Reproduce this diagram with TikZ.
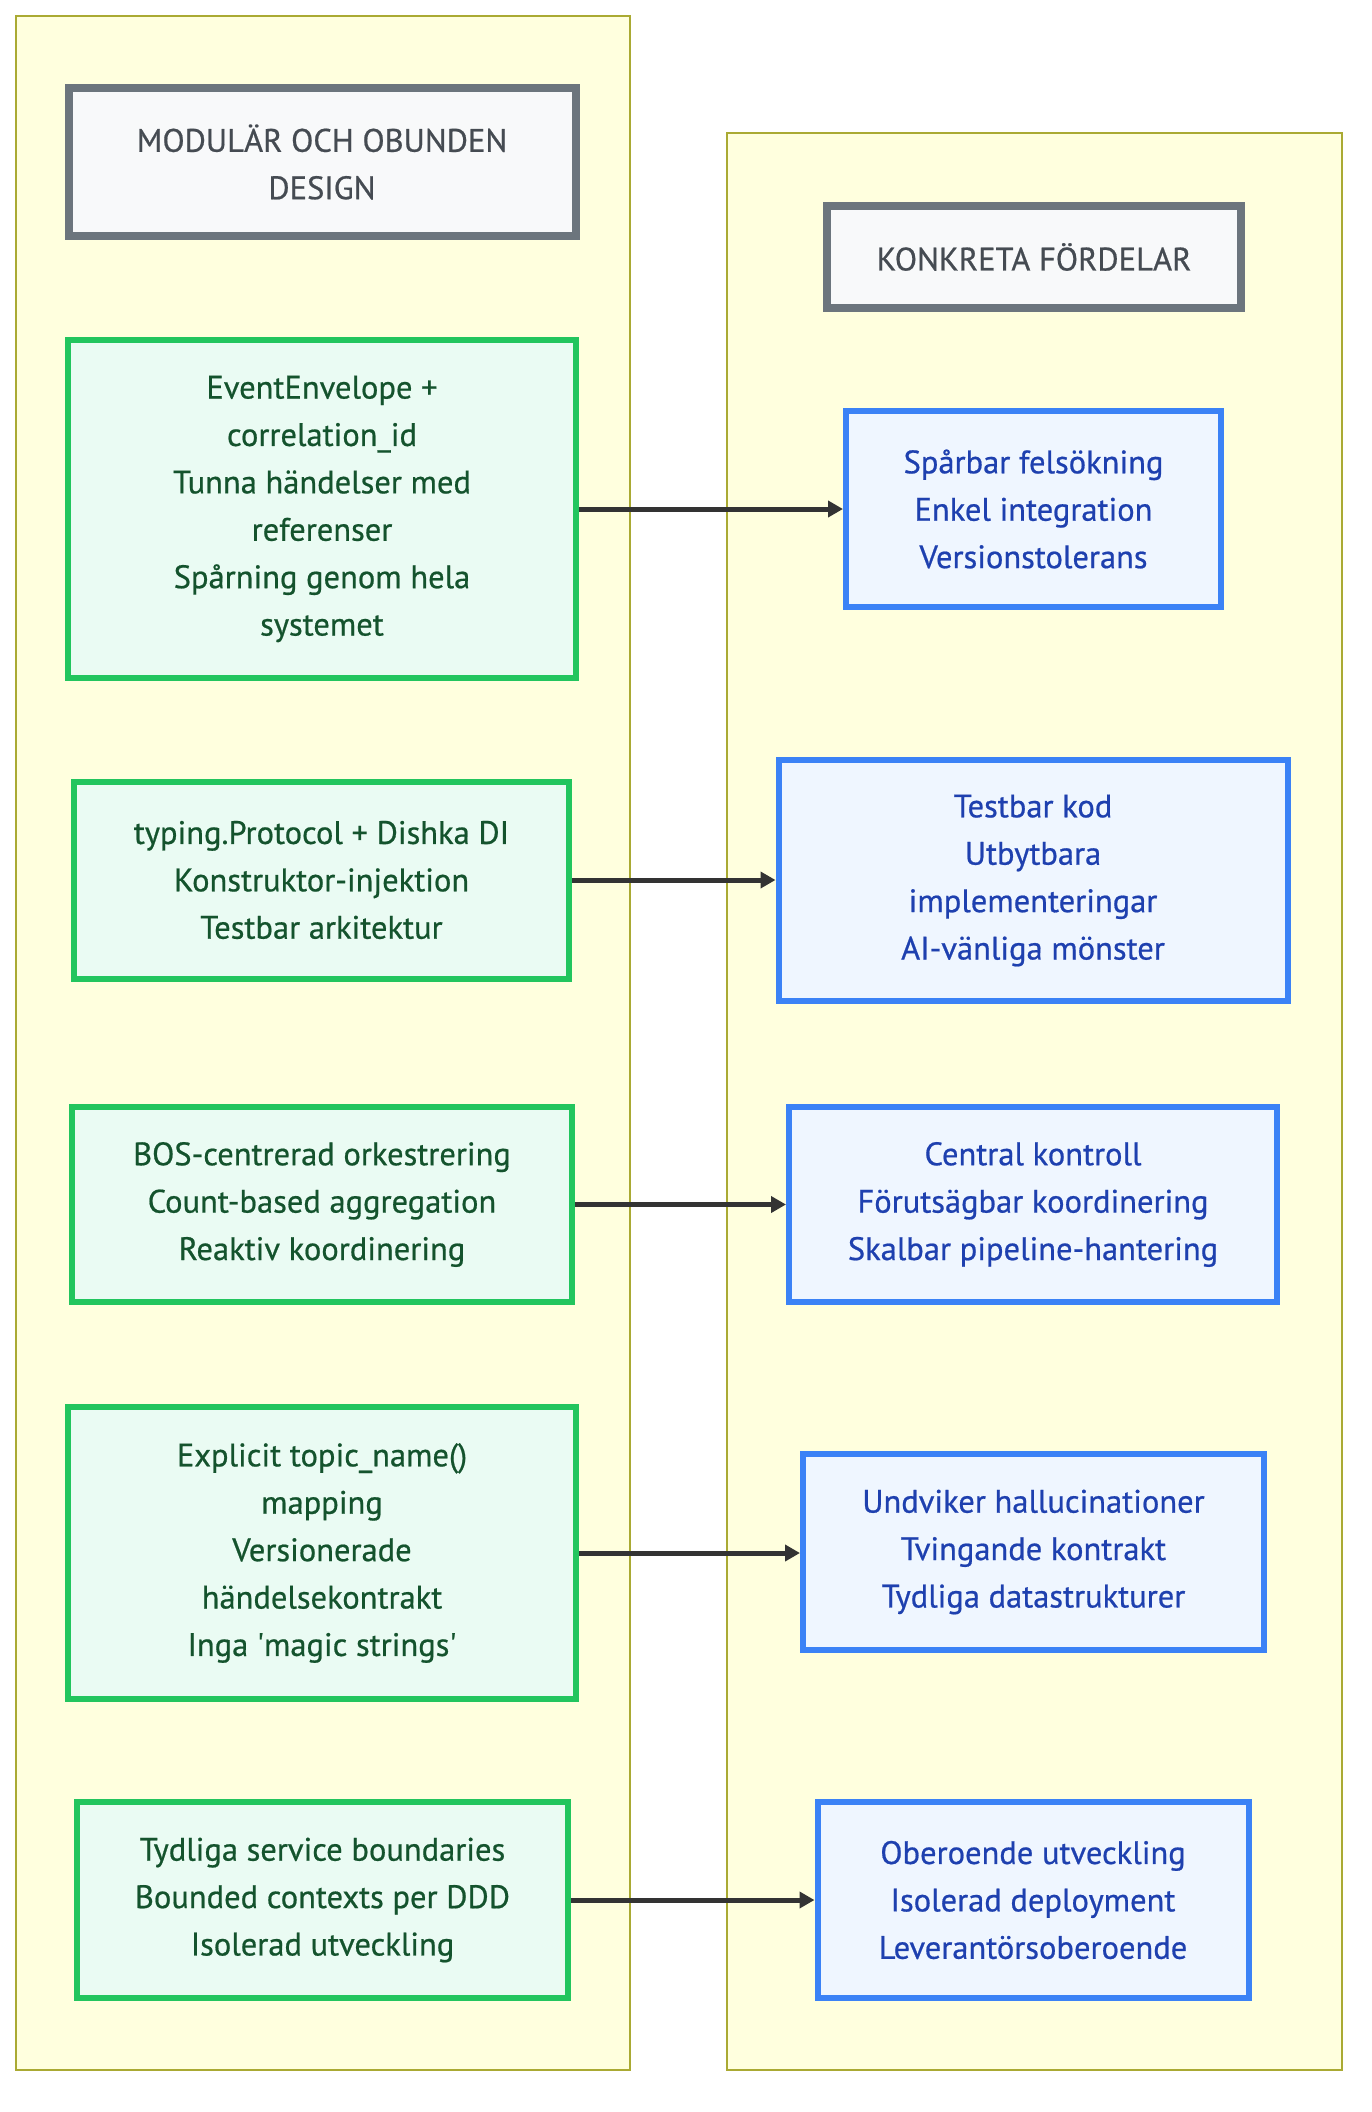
\documentclass[tikz,border=0pt]{standalone}
\usepackage{fontspec}
\setmainfont{PT Sans}
\newfontfamily\nodefont{PT Sans}[FakeBold=0.6]
\usetikzlibrary{arrows.meta}
\definecolor{clfill}{HTML}{FFFFDE}
\definecolor{clstroke}{HTML}{AAAA33}
\definecolor{tfill}{HTML}{F8F9FA}
\definecolor{tstroke}{HTML}{6C757D}
\definecolor{ttext}{HTML}{454B52}
\definecolor{gfill}{HTML}{EAFBF3}
\definecolor{gstroke}{HTML}{22C55E}
\definecolor{gtext}{HTML}{14532D}
\definecolor{bfill}{HTML}{EFF6FF}
\definecolor{bstroke}{HTML}{3B82F6}
\definecolor{btext}{HTML}{1E40AF}
\definecolor{arr}{HTML}{333333}
\tikzset{
  x=1pt,y=1pt,
  cluster/.style={draw=clstroke,fill=clfill,line width=2pt},
  basebox/.style={rectangle,align=center,inner sep=0pt,font=\nodefont\fontsize{32.5}{47.4}\selectfont},
  titlebox/.style={basebox,draw=tstroke,fill=tfill,line width=8pt,text=ttext},
  gbox/.style={basebox,draw=gstroke,fill=gfill,line width=6pt,text=gtext},
  bbox/.style={basebox,draw=bstroke,fill=bfill,line width=6pt,text=btext},
  conn/.style={draw=arr,line width=5pt,-{Triangle[length=15pt,width=16pt]}},
}
\begin{document}
\begin{tikzpicture}
\useasboundingbox (0,0) rectangle (1372,-2112);
\fill[white] (0,0) rectangle (1372,-2112);
% clusters
\draw[cluster] (16,-16) rectangle (630,-2070);
\draw[cluster] (727,-133) rectangle (1342,-2070);
% titles
\node[titlebox,minimum width=507,minimum height=148] (tl) at (322,-162) {MODULÄR OCH OBUNDEN\\DESIGN};
\node[titlebox,minimum width=414,minimum height=102] (tr) at (1034,-257) {KONKRETA FÖRDELAR};
% left nodes
\node[gbox,minimum width=508,minimum height=338] (g1) at (322,-509) {EventEnvelope +\\correlation\_id\\Tunna händelser med\\referenser\\Spårning genom hela\\systemet};
\node[gbox,minimum width=495,minimum height=197] (g2) at (321.5,-880) {typing.Protocol + Dishka DI\\Konstruktor-injektion\\Testbar arkitektur};
\node[gbox,minimum width=500,minimum height=195] (g3) at (322,-1204.5) {BOS-centrerad orkestrering\\Count-based aggregation\\Reaktiv koordinering};
\node[gbox,minimum width=508,minimum height=292] (g4) at (322,-1553) {Explicit topic\_name()\\mapping\\Versionerade\\händelsekontrakt\\Inga \textquotesingle magic strings\textquotesingle};
\node[gbox,minimum width=491,minimum height=196] (g5) at (322.5,-1900) {Tydliga service boundaries\\Bounded contexts per DDD\\Isolerad utveckling};
% right nodes
\node[bbox,minimum width=375,minimum height=196] (b1) at (1033.5,-509) {Spårbar felsökning\\Enkel integration\\Versionstolerans};
\node[bbox,minimum width=509,minimum height=241] (b2) at (1033,-880.5) {Testbar kod\\Utbytbara\\implementeringar\\AI-vänliga mönster};
\node[bbox,minimum width=488,minimum height=195] (b3) at (1033,-1204.5) {Central kontroll\\Förutsägbar koordinering\\Skalbar pipeline-hantering};
\node[bbox,minimum width=461,minimum height=196] (b4) at (1033.5,-1552) {Undviker hallucinationer\\Tvingande kontrakt\\Tydliga datastrukturer};
\node[bbox,minimum width=431,minimum height=196] (b5) at (1033,-1900) {Oberoende utveckling\\Isolerad deployment\\Leverantörsoberoende};
% connectors
\draw[conn] (g1.east) -- (g1.east -| b1.west);
\draw[conn] (g2.east) -- (g2.east -| b2.west);
\draw[conn] (g3.east) -- (g3.east -| b3.west);
\draw[conn] (g4.east) -- (g4.east -| b4.west);
\draw[conn] (g5.east) -- (g5.east -| b5.west);
\end{tikzpicture}
\end{document}
